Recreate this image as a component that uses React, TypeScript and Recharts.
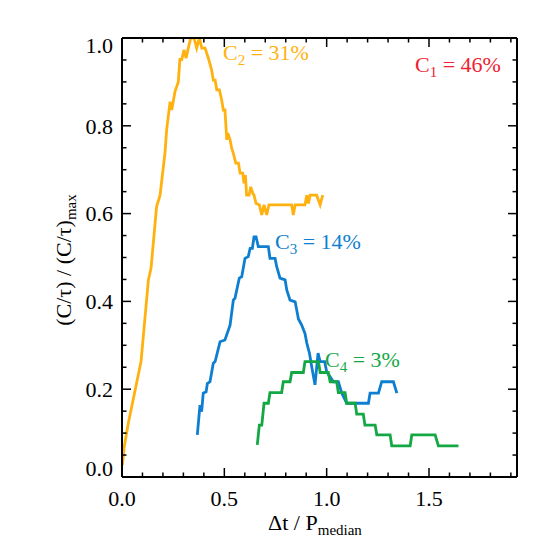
import { LineChart, Line, XAxis, YAxis } from 'recharts';

const serif = "'Liberation Serif', 'Times New Roman', Times, serif";
const txt = { fontFamily: serif, fontSize: 22 };

// [Δt / P_median, (C/τ)/(C/τ)_max]
const c2Points: [number, number][] = [
  [0.002, 0.027], [0.011, 0.069], [0.031, 0.123], [0.093, 0.263], [0.129, 0.449], [0.142, 0.476],
  [0.169, 0.616], [0.186, 0.642], [0.21, 0.738], [0.218, 0.79], [0.235, 0.855], [0.243, 0.836],
  [0.259, 0.878], [0.275, 0.9], [0.283, 0.951], [0.292, 0.951], [0.303, 0.973], [0.313, 0.954],
  [0.324, 0.977], [0.336, 1.0], [0.352, 1.0], [0.365, 0.977], [0.378, 1.0], [0.39, 0.977],
  [0.406, 0.977], [0.422, 0.954], [0.438, 0.927], [0.446, 0.904], [0.455, 0.904], [0.463, 0.882],
  [0.476, 0.882], [0.487, 0.859], [0.495, 0.836], [0.503, 0.836], [0.512, 0.768], [0.517, 0.783],
  [0.528, 0.768], [0.536, 0.749], [0.544, 0.737], [0.556, 0.715], [0.569, 0.715], [0.577, 0.692],
  [0.59, 0.692], [0.596, 0.669], [0.603, 0.688], [0.609, 0.642], [0.621, 0.642], [0.629, 0.661],
  [0.639, 0.646], [0.645, 0.642], [0.655, 0.623], [0.671, 0.62], [0.683, 0.597], [0.694, 0.62],
  [0.707, 0.597], [0.718, 0.62], [0.829, 0.62], [0.837, 0.597], [0.846, 0.62], [0.894, 0.62],
  [0.903, 0.642], [0.911, 0.623], [0.919, 0.642], [0.951, 0.642], [0.968, 0.62], [0.981, 0.642],
];

const c3Points: [number, number][] = [
  [0.368, 0.096], [0.381, 0.164], [0.389, 0.149], [0.397, 0.191], [0.411, 0.194], [0.417, 0.213],
  [0.43, 0.217], [0.446, 0.259], [0.455, 0.263], [0.479, 0.308], [0.503, 0.312], [0.528, 0.346],
  [0.544, 0.403], [0.552, 0.407], [0.573, 0.453], [0.585, 0.456], [0.601, 0.498], [0.617, 0.502],
  [0.626, 0.521], [0.637, 0.521], [0.645, 0.547], [0.655, 0.547], [0.666, 0.525], [0.715, 0.525],
  [0.723, 0.498], [0.748, 0.498], [0.756, 0.479], [0.772, 0.453], [0.797, 0.449], [0.805, 0.426],
  [0.821, 0.403], [0.846, 0.399], [0.862, 0.36], [0.878, 0.346], [0.894, 0.327], [0.903, 0.305],
  [0.916, 0.282], [0.927, 0.251], [0.943, 0.21], [0.958, 0.282], [0.968, 0.263], [0.99, 0.263],
  [1.0, 0.24], [1.033, 0.217], [1.057, 0.217], [1.074, 0.191], [1.098, 0.168], [1.204, 0.168],
  [1.212, 0.191], [1.253, 0.191], [1.269, 0.217], [1.326, 0.217], [1.343, 0.191],
];

const c4Points: [number, number][] = [
  [0.661, 0.073], [0.671, 0.118], [0.683, 0.118], [0.694, 0.168], [0.715, 0.168], [0.723, 0.192],
  [0.78, 0.192], [0.788, 0.217], [0.821, 0.217], [0.829, 0.238], [0.886, 0.238], [0.894, 0.263],
  [0.96, 0.263], [0.968, 0.238], [1.008, 0.238], [1.017, 0.217], [1.049, 0.217], [1.057, 0.192],
  [1.09, 0.192], [1.098, 0.168], [1.139, 0.168], [1.147, 0.143], [1.179, 0.143], [1.187, 0.118],
  [1.237, 0.118], [1.245, 0.096], [1.31, 0.096], [1.318, 0.071], [1.408, 0.071], [1.416, 0.096],
  [1.53, 0.096], [1.546, 0.071], [1.644, 0.071],
];

const xTicks = [0, 0.1, 0.2, 0.3, 0.4, 0.5, 0.6, 0.7, 0.8, 0.9, 1.0, 1.1, 1.2, 1.3, 1.4, 1.5, 1.6, 1.7, 1.8, 1.9];
const xMajor = [0, 0.5, 1.0, 1.5];
const yTicks = [0, 0.05, 0.1, 0.15, 0.2, 0.25, 0.3, 0.35, 0.4, 0.45, 0.5, 0.55, 0.6, 0.65, 0.7, 0.75, 0.8, 0.85, 0.9, 0.95, 1.0];
const yMajor = [0, 0.2, 0.4, 0.6, 0.8, 1.0];

const toRows = (pts: [number, number][]) => pts.map(([dt, r]) => ({ dt, r }));
const isMajor = (v: number, list: number[]) => list.some((m) => Math.abs(m - v) < 1e-6);

const MAJOR = 9;
const MINOR = 4.5;
const tickStroke = { stroke: '#000', strokeWidth: 1.5 };
const frame = { stroke: '#000', strokeWidth: 2 };

function BottomTick({ x, y, payload }: any) {
  const major = isMajor(payload.value, xMajor);
  return (
    <g>
      <line x1={x} y1={y} x2={x} y2={y - (major ? MAJOR : MINOR)} {...tickStroke} />
      {major && (
        <text x={x} y={y + 29} textAnchor="middle" style={txt} fill="#000">
          {payload.value.toFixed(1)}
        </text>
      )}
    </g>
  );
}

function TopTick({ x, y, payload }: any) {
  const major = isMajor(payload.value, xMajor);
  return <line x1={x} y1={y} x2={x} y2={y + (major ? MAJOR : MINOR)} {...tickStroke} />;
}

function LeftTick({ x, y, payload }: any) {
  const major = isMajor(payload.value, yMajor);
  // the end labels sit inside the frame, as in the original
  const shift = payload.value >= 0.999 ? 7 : payload.value <= 0.001 ? -9 : 0;
  return (
    <g>
      <line x1={x} y1={y} x2={x + (major ? MAJOR : MINOR)} y2={y} {...tickStroke} />
      {major && (
        <text x={x - 9} y={y + shift} dy="0.35em" textAnchor="end" style={txt} fill="#000">
          {payload.value.toFixed(1)}
        </text>
      )}
    </g>
  );
}

function RightTick({ x, y, payload }: any) {
  const major = isMajor(payload.value, yMajor);
  return <line x1={x} y1={y} x2={x - (major ? MAJOR : MINOR)} y2={y} {...tickStroke} />;
}

const ORANGE = '#FFB20F';
const BLUE = '#0E7FD0';
const GREEN = '#13A844';
const RED = '#EE2233';

function Annot({ x, y, n, pct, color }: { x: number; y: number; n: string; pct: string; color: string }) {
  return (
    <text x={x} y={y} style={txt} fill={color}>
      C<tspan style={{ fontSize: 15 }} dy={5}>{n}</tspan>
      <tspan dy={-5}>{` = ${pct}`}</tspan>
    </text>
  );
}

export default function App() {
  const W = 538;
  const H = 538;
  return (
    <div style={{ position: 'relative', width: W, height: H, fontFamily: serif }}>
      <LineChart width={W} height={H} margin={{ top: 20, right: 19, bottom: 9, left: 54 }}>
        <XAxis
          xAxisId="bottom" dataKey="dt" type="number" domain={[0, 1.93]} allowDataOverflow
          ticks={xTicks} interval={0} tickLine={false} tickSize={0} tickMargin={0} height={60}
          axisLine={frame} tick={(p: any) => <BottomTick {...p} />}
        />
        <XAxis
          xAxisId="top" orientation="top" dataKey="dt" type="number" domain={[0, 1.93]} allowDataOverflow
          ticks={xTicks} interval={0} tickLine={false} tickSize={0} tickMargin={0} height={10}
          axisLine={frame} tick={(p: any) => <TopTick {...p} />}
        />
        <YAxis
          yAxisId="left" type="number" domain={[0, 1]} allowDataOverflow
          ticks={yTicks} interval={0} tickLine={false} tickSize={0} tickMargin={0} width={60}
          axisLine={frame} tick={(p: any) => <LeftTick {...p} />}
        />
        <YAxis
          yAxisId="right" orientation="right" type="number" domain={[0, 1]} allowDataOverflow
          ticks={yTicks} interval={0} tickLine={false} tickSize={0} tickMargin={0} width={10}
          axisLine={frame} tick={(p: any) => <RightTick {...p} />}
        />
        <Line data={toRows(c2Points)} dataKey="r" xAxisId="bottom" yAxisId="left" type="linear"
          stroke={ORANGE} strokeWidth={2.8} dot={false} isAnimationActive={false} />
        <Line data={toRows(c3Points)} dataKey="r" xAxisId="bottom" yAxisId="left" type="linear"
          stroke={BLUE} strokeWidth={2.8} dot={false} isAnimationActive={false} />
        <Line data={toRows(c4Points)} dataKey="r" xAxisId="bottom" yAxisId="left" type="linear"
          stroke={GREEN} strokeWidth={2.8} dot={false} isAnimationActive={false} />
      </LineChart>
      <svg width={W} height={H} style={{ position: 'absolute', left: 0, top: 0, pointerEvents: 'none' }}>
        <Annot x={215} y={52} n="2" pct="31%" color={ORANGE} />
        <Annot x={407} y={64} n="1" pct="46%" color={RED} />
        <Annot x={267} y={241} n="3" pct="14%" color={BLUE} />
        <Annot x={317} y={359} n="4" pct="3%" color={GREEN} />
        <text x={307} y={522} textAnchor="middle" style={txt} fill="#000">
          Δt / P<tspan style={{ fontSize: 15 }} dy={5}>median</tspan>
        </text>
        <text x={0} y={0} transform="translate(63,252) rotate(-90)" textAnchor="middle" style={txt} fill="#000">
          (C/τ) / (C/τ)<tspan style={{ fontSize: 15 }} dy={5}>max</tspan>
        </text>
      </svg>
    </div>
  );
}
